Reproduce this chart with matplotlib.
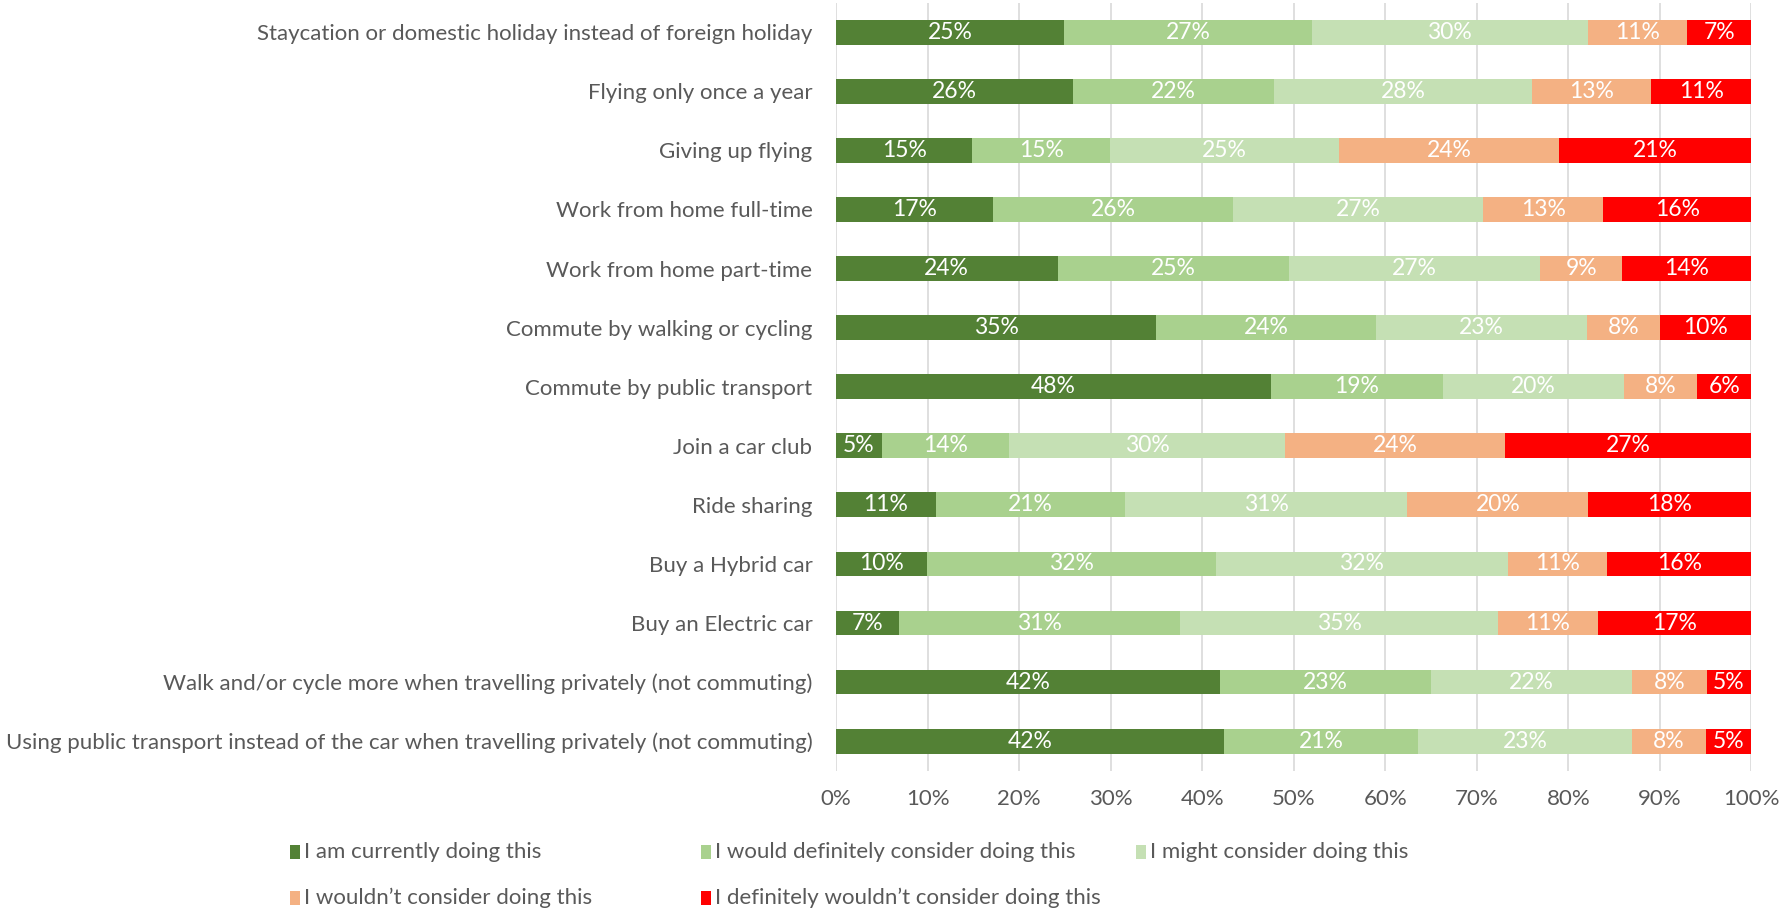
import matplotlib
matplotlib.use("Agg")
import matplotlib.pyplot as plt
from matplotlib.patches import Rectangle

plt.rcParams['font.family'] = ['Lato', 'DejaVu Sans']

# Survey options, top to bottom
options = [
    "Staycation or domestic holiday instead of foreign holiday",
    "Flying only once a year",
    "Giving up flying",
    "Work from home full-time",
    "Work from home part-time",
    "Commute by walking or cycling",
    "Commute by public transport",
    "Join a car club",
    "Ride sharing",
    "Buy a Hybrid car",
    "Buy an Electric car",
    "Walk and/or cycle more when travelling privately (not commuting)",
    "Using public transport instead of the car when travelling privately (not commuting)",
]

responses = [
    "I am currently doing this",
    "I would definitely consider doing this",
    "I might consider doing this",
    "I wouldn\u2019t consider doing this",
    "I definitely wouldn\u2019t consider doing this",
]

# share of respondents (%) per response, same order as options
currently = [24.9, 25.9, 14.9, 17.1, 24.2, 35.0, 47.5, 5.0, 10.9, 9.9, 6.9, 42.0, 42.4]
definitely = [27.1, 22.0, 15.0, 26.3, 25.3, 24.0, 18.8, 13.9, 20.7, 31.6, 30.7, 23.0, 21.2]
might = [30.1, 28.1, 25.1, 27.3, 27.4, 23.0, 19.8, 30.2, 30.8, 31.9, 34.7, 22.0, 23.3]
wouldnt = [10.9, 13.0, 24.0, 13.1, 9.0, 8.0, 8.0, 24.0, 19.8, 10.8, 10.9, 8.1, 8.1]
definitely_not = [7.0, 11.0, 21.0, 16.2, 14.1, 10.0, 5.9, 26.9, 17.8, 15.8, 16.8, 4.9, 5.0]

series = [currently, definitely, might, wouldnt, definitely_not]
colors = ["#538135", "#A9D18E", "#C5E0B4", "#F4B183", "#FF0000"]
grey = "#595959"
fs = 16

fig = plt.figure(figsize=(17.81, 9.11), dpi=100)
ax = fig.add_axes([0.4694, 0.154, 0.5140, 0.843])

y = list(range(len(options)))
left = [0.0] * len(options)
for vals, col, name in zip(series, colors, responses):
    ax.barh(y, vals, left=left, height=0.42, color=col, label=name, zorder=2)
    for yi, v, l0 in zip(y, vals, left):
        ax.text(l0 + v / 2, yi, f"{v:.0f}%", ha="center", va="center",
                color="white", fontsize=fs + 0.5, zorder=3)
    left = [a + b for a, b in zip(left, vals)]

ax.set_xlim(0, 100)
ax.set_ylim(len(options) - 0.5, -0.5)
ax.set_yticks(y)
ax.set_yticklabels(options, fontsize=fs, color=grey)
ax.set_xticks(range(0, 101, 10))
ax.set_xticklabels([f"{t}%" for t in range(0, 101, 10)], fontsize=fs, color=grey)
ax.tick_params(axis="both", length=0)
ax.tick_params(axis="y", pad=17)
ax.tick_params(axis="x", pad=13)
ax.grid(axis="x", color="#D9D9D9", linewidth=1.2, zorder=0)
for s in ax.spines.values():
    s.set_visible(False)

# legend laid out by hand: two rows, three columns
legend_pos = [(289.7, 852), (700.8, 852), (1135.9, 852), (289.7, 897.5), (700.8, 897.5)]
W, H = 1781.0, 911.0
for (px, py), col, name in zip(legend_pos, colors, responses):
    fig.patches.append(Rectangle((px / W, 1 - (py + 7) / H), 10 / W, 14 / H,
                                 transform=fig.transFigure, facecolor=col,
                                 edgecolor="none"))
    fig.text((px + 14) / W, 1 - py / H, name, ha="left", va="center",
             fontsize=fs, color=grey)

fig.savefig("out.png", dpi=100)
